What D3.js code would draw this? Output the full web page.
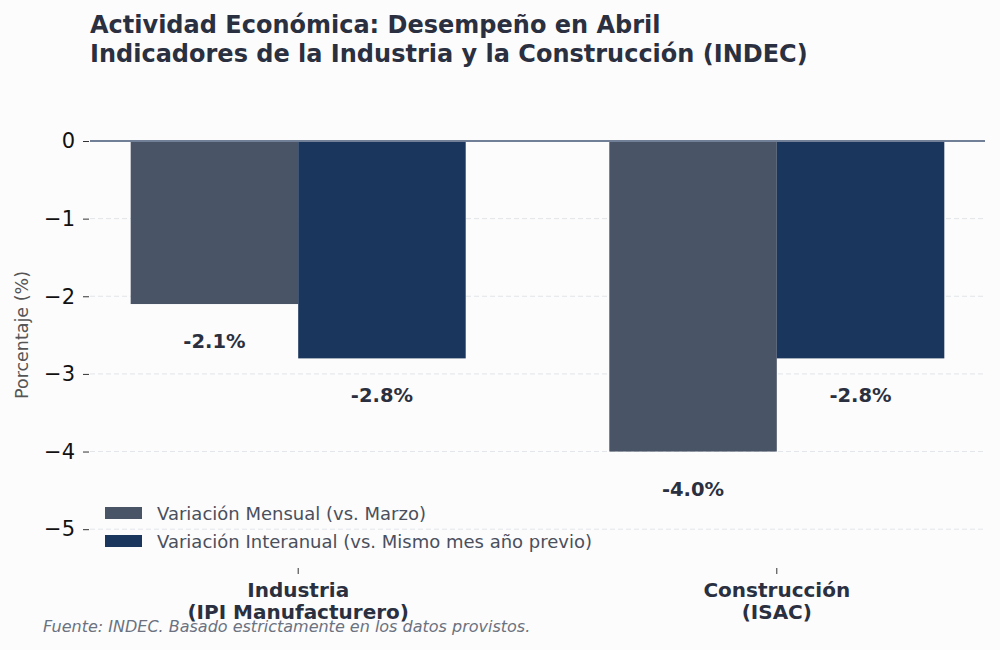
<!DOCTYPE html>
<html>
<head>
<meta charset="utf-8">
<script src="https://cdn.jsdelivr.net/npm/d3@7"></script>
<style>
  body { margin: 0; background: #fcfcfc; }
  svg { font-family: "DejaVu Sans", sans-serif; }
</style>
</head>
<body>
<svg id="chart"></svg>
<script>
var categories = ['Industria\n(IPI Manufacturero)', 'Construcción\n(ISAC)'];
var seriesNames = ['Variación Mensual (vs. Marzo)', 'Variación Interanual (vs. Mismo mes año previo)'];
var mensual = [-2.1, -4.0];
var interanual = [-2.8, -2.8];
var yTicks = [0, -1, -2, -3, -4, -5];
var colors = ['#4a5467', '#1b365d'];

function drawChart(svgname) {
   var width = 1000,
       height = 650;

   var svg = d3.select('#' + svgname)
       .attr('width', width)
       .attr('height', height);

   svg.append('rect')
      .attr('width', width)
      .attr('height', height)
      .attr('fill', '#fcfcfc');

   var left = 90, right = 985, top = 141, bottom = 568;

   var x = d3.scaleLinear().domain([-0.435, 1.435]).range([left, right]);
   var y = d3.scaleLinear().domain([0, -5.5]).range([top, bottom]);
   var barW = 0.35;

   // grid
   svg.append('g')
      .selectAll('line')
      .data(yTicks.filter(function(d) { return d !== 0; }))
      .enter().append('line')
      .attr('x1', left).attr('x2', right)
      .attr('y1', function(d) { return y(d); })
      .attr('y2', function(d) { return y(d); })
      .attr('stroke', '#e2e5e9')
      .attr('stroke-width', 1)
      .attr('stroke-dasharray', '5,3');

   // y axis
   var yAxis = d3.axisLeft(y)
       .tickValues(yTicks)
       .tickSize(6)
       .tickPadding(8)
       .tickFormat(function(d) { return d === 0 ? '0' : '\u2212' + Math.abs(d); });
   var gy = svg.append('g')
      .attr('transform', 'translate(' + (left - 1) + ',0)')
      .call(yAxis);
   gy.select('.domain').remove();
   gy.selectAll('text').attr('font-size', 21).attr('fill', '#111').attr('font-family', '"DejaVu Sans", sans-serif');
   gy.selectAll('line').attr('stroke', '#333');

   var series = [mensual, interanual];
   series.forEach(function(vals, si) {
      var off = si === 0 ? -barW : 0;
      svg.append('g')
         .selectAll('rect')
         .data(vals)
         .enter().append('rect')
         .attr('x', function(d, i) { return x(i + off); })
         .attr('width', function(d, i) { return x(i + off + barW) - x(i + off); })
         .attr('y', y(0))
         .attr('height', function(d) { return y(d) - y(0); })
         .attr('fill', colors[si]);

      svg.append('g')
         .selectAll('text')
         .data(vals)
         .enter().append('text')
         .attr('x', function(d, i) { return x(i + off + barW / 2); })
         .attr('y', function(d) { return y(d) + 44; })
         .attr('text-anchor', 'middle')
         .attr('font-size', 19.5)
         .attr('font-weight', 'bold')
         .attr('fill', '#2b3040')
         .text(function(d) { return d.toFixed(1) + '%'; });
   });

   // zero line
   svg.append('line')
      .attr('x1', left).attr('x2', right)
      .attr('y1', y(0)).attr('y2', y(0))
      .attr('stroke', '#718096')
      .attr('stroke-width', 2);

   // x axis
   var gx = svg.append('g');
   categories.forEach(function(c, i) {
      gx.append('line')
         .attr('x1', x(i)).attr('x2', x(i))
         .attr('y1', bottom).attr('y2', bottom + 6)
         .attr('stroke', '#333');
      var t = gx.append('text')
         .attr('x', x(i))
         .attr('y', 597)
         .attr('text-anchor', 'middle')
         .attr('font-size', 20)
         .attr('font-weight', 'bold')
         .attr('fill', '#2b3040');
      c.split('\n').forEach(function(line, k) {
         t.append('tspan').attr('x', x(i)).attr('dy', k === 0 ? 0 : 22).text(line);
      });
   });

   // y label
   svg.append('text')
      .attr('transform', 'translate(28,335) rotate(-90)')
      .attr('text-anchor', 'middle')
      .attr('font-size', 17.5)
      .attr('fill', '#555')
      .text('Porcentaje (%)');

   // legend
   var lg = svg.append('g').attr('transform', 'translate(105,507)');
   seriesNames.forEach(function(n, i) {
      lg.append('rect')
         .attr('x', 0).attr('y', i * 28)
         .attr('width', 37).attr('height', 12)
         .attr('fill', colors[i]);
      lg.append('text')
         .attr('x', 52).attr('y', i * 28 + 13)
         .attr('font-size', 18)
         .attr('fill', '#4a4f5c')
         .text(n);
   });

   // title
   svg.append('text')
      .attr('x', 90).attr('y', 33)
      .attr('font-size', 24)
      .attr('font-weight', 'bold')
      .attr('fill', '#2b3040')
      .text('Actividad Económica: Desempeño en Abril');
   svg.append('text')
      .attr('x', 90).attr('y', 62)
      .attr('font-size', 24)
      .attr('font-weight', 'bold')
      .attr('fill', '#2b3040')
      .text('Indicadores de la Industria y la Construcción (INDEC)');

   // footer
   svg.append('text')
      .attr('x', 43).attr('y', 632)
      .attr('font-size', 16)
      .attr('font-style', 'italic')
      .attr('fill', '#6b7280')
      .text('Fuente: INDEC. Basado estrictamente en los datos provistos.');
}

drawChart('chart');
</script>
</body>
</html>
